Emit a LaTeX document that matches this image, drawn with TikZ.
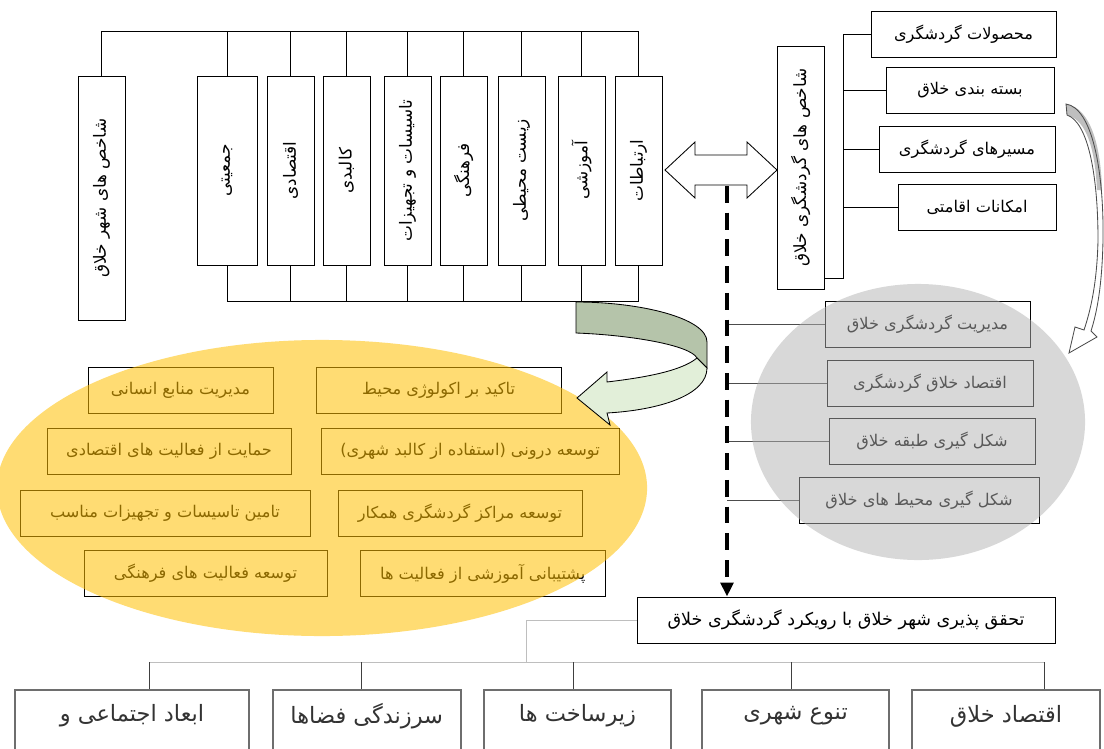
\documentclass[tikz,border=0pt]{standalone}
\usepackage{fontspec}
\usepackage{graphicx}
\usetikzlibrary{arrows.meta}
\newfontfamily\fa[Script=Arabic]{DejaVu Sans}
\TeXXeTstate=1
\newcommand{\rl}[1]{\beginR #1\endR}
\definecolor{ylfill}{RGB}{255,191,0}
\definecolor{grfill}{RGB}{178,178,178}
\definecolor{arrdark}{RGB}{181,196,170}
\definecolor{arrlight}{RGB}{226,239,217}
\definecolor{boxgray}{RGB}{110,110,110}
\definecolor{busgray}{RGB}{190,190,190}
\tikzset{
    vbox/.style={rectangle, draw, line width=0.6pt, minimum width=1.175cm, minimum height=4.725cm, inner sep=0pt, font=\fa\fontsize{12}{14}\selectfont},
    tbox/.style={rectangle, draw, line width=0.6pt, minimum height=1.15cm, inner sep=0pt, font=\fa\fontsize{11.5}{14}\selectfont},
    bbox/.style={rectangle, draw=boxgray, line width=1.4pt, minimum height=2.5cm, anchor=north},
    btext/.style={font=\fa\fontsize{16}{18}\selectfont, text=black!80},
    line/.style={draw, line width=0.6pt},
    glink/.style={draw=black!70, line width=0.6pt},
    dashline/.style={draw, line width=2.6pt, dash pattern=on 12pt off 7pt, -{Triangle[length=10pt,width=9pt]}}
}

\begin{document}
\begin{tikzpicture}[x=0.025cm, y=-0.025cm]
    \useasboundingbox (0,0) rectangle (1104,749);

    % city indicators
    \node [vbox, minimum height=6.1cm] (city) at (101.5,198) {\rotatebox{90}{\rl{شاخص های شهر خلاق}}};
    \node [vbox, minimum width=1.5cm] (jam) at (227,170.5) {\rotatebox{90}{\rl{جمعیتی}}};
    \node [vbox] (eqt) at (290.5,170.5) {\rotatebox{90}{\rl{اقتصادی}}};
    \node [vbox] (kal) at (346.5,170.5) {\rotatebox{90}{\rl{کالبدی}}};
    \node [vbox] (tas) at (407.5,170.5) {\rotatebox{90}{\rl{تاسیسات و تجهیزات}}};
    \node [vbox] (far) at (463.5,170.5) {\rotatebox{90}{\rl{فرهنگی}}};
    \node [vbox] (zis) at (521.5,170.5) {\rotatebox{90}{\rl{زیست محیطی}}};
    \node [vbox] (amu) at (581.5,170.5) {\rotatebox{90}{\rl{آموزشی}}};
    \node [vbox] (ert) at (638.5,170.5) {\rotatebox{90}{\rl{ارتباطات}}};

    \coordinate (bustop) at (0,31);
    \coordinate (busbot) at (0,301);
    \path [line] (city.north) |- (bustop -| ert.north) -- (ert.north);
    \path [line] (jam.south) |- (busbot -| ert.south) -- (ert.south);
    \foreach \n in {jam,eqt,kal,tas,far,zis,amu} {
        \path [line] (\n.north) -- (\n.north |- bustop);
        \path [line] (\n.south) -- (\n.south |- busbot);
    }

    % tourism indicators
    \node [vbox, minimum height=6.075cm] (tour) at (800.5,167.5) {\rotatebox{90}{\rl{شاخص های گردشگری خلاق}}};
    \node [tbox, minimum width=4.625cm] (prod) at (963.5,34) {\rl{محصولات گردشگری}};
    \node [tbox, minimum width=4.2cm] (pack) at (970,90.5) {\rl{بسته بندی خلاق}};
    \node [tbox, minimum width=4.4cm] (route) at (967,149) {\rl{مسیرهای گردشگری}};
    \node [tbox, minimum width=3.95cm] (acco) at (977,207.5) {\rl{امکانات اقامتی}};
    \coordinate (brk) at (843,278);
    \path [line] (tour.east |- brk) -- (brk) |- (prod.west);
    \foreach \n in {pack,route,acco}
        \path [line] (brk |- \n.west) -- (\n.west);

    % double arrow
    \path [line, fill=white] (665,170) -- (695,142) -- (695,155) -- (747,155) -- (747,142) -- (777,170)
        -- (747,198) -- (747,185) -- (695,185) -- (695,198) -- cycle;

    % outcomes (grey)
    \node [tbox, minimum width=5.125cm] (mgmt) at (927.5,324.5) {\rl{مدیریت گردشگری خلاق}};
    \node [tbox, minimum width=5.15cm] (econ) at (930,383.5) {\rl{اقتصاد خلاق گردشگری}};
    \node [tbox, minimum width=5.15cm] (class) at (932,441) {\rl{شکل گیری طبقه خلاق}};
    \node [tbox, minimum width=6cm] (env) at (919,500) {\rl{شکل گیری محیط های خلاق}};

    % strategies (yellow)
    \node [tbox, minimum width=6.125cm] (eco) at (438.5,390.5) {\rl{تاکید بر اکولوژی محیط}};
    \node [tbox, minimum width=4.625cm] (hr) at (180.5,390.5) {\rl{مدیریت منابع انسانی}};
    \node [tbox, minimum width=7.45cm] (infill) at (470,451.5) {\rl{توسعه درونی (استفاده از کالبد شهری)}};
    \node [tbox, minimum width=6.1cm] (supp) at (169,451.5) {\rl{حمایت از فعالیت های اقتصادی}};
    \node [tbox, minimum width=6.1cm] (hub) at (460,513.5) {\rl{توسعه مراکز گردشگری همکار}};
    \node [tbox, minimum width=7.25cm] (facil) at (165,513.5) {\rl{تامین تاسیسات و تجهیزات مناسب}};
    \node [tbox, minimum width=6.11cm] (edu) at (482.75,573.5) {\rl{پشتیبانی آموزشی از فعالیت ها}};
    \node [tbox, minimum width=6.075cm] (cult) at (205.5,573.5) {\rl{توسعه فعالیت های فرهنگی}};

    % result
    \node [tbox, minimum width=10.45cm, font=\fa\fontsize{12.5}{14}\selectfont] (reach) at (846,620) {\rl{تحقق پذیری شهر خلاق با رویکرد گردشگری خلاق}};

    \coordinate (dtop) at (727,186);
    \foreach \n in {mgmt,econ,class,env}
        \path [glink] (dtop |- \n.west) -- (\n.west);
    \path [dashline] (dtop) -- (dtop |- reach.north);

    % overlays
    \fill [ylfill, fill opacity=0.55] (322,488) ellipse [x radius=8.125cm, y radius=3.7cm];
    \fill [grfill, fill opacity=0.5] (918,422) ellipse [x radius=4.175cm, y radius=3.45cm];

    % green turn arrow
    \path [line, fill=arrdark] (576,302) .. controls (640,302) and (707,318) .. (707,342) -- (707,368)
        -- (697,358) .. controls (690,345) and (630,335) .. (576,333) -- cycle;
    \path [line, fill=arrlight] (697,358) -- (707,368) .. controls (707,395) and (660,410) .. (607,413)
        -- (610,425) -- (577,398) -- (607,372) -- (607,382) .. controls (640,378) and (680,372) .. (697,358) -- cycle;

    % grey turn arrow
    \fill [white] (1066,104) .. controls (1092,108) and (1104,170) .. (1103,240) .. controls (1102,290) and (1096,315) .. (1091,331)
        -- (1097,337) -- (1069,353) -- (1075,327) -- (1084,330) .. controls (1090,312) and (1097,285) .. (1098,240)
        .. controls (1098,175) and (1088,122) .. (1067,115) -- cycle;
    \fill [gray!50] (1066,104) .. controls (1092,108) and (1101,150) .. (1102,190) -- (1097,190)
        .. controls (1095,150) and (1087,120) .. (1067,115) -- cycle;
    \draw [black!70, line width=0.6pt] (1066,104) .. controls (1092,108) and (1104,170) .. (1103,240) .. controls (1102,290) and (1096,315) .. (1091,331)
        -- (1097,337) -- (1069,353) -- (1075,327) -- (1084,330) .. controls (1090,312) and (1097,285) .. (1098,240)
        .. controls (1098,175) and (1088,122) .. (1067,115) -- cycle;

    % dimensions
    \node [bbox, minimum width=5.825cm] (b1) at (132,689) {};
    \node [bbox, minimum width=4.71cm] (b2) at (366.75,689) {};
    \node [bbox, minimum width=4.675cm] (b3) at (577.5,689) {};
    \node [bbox, minimum width=4.675cm] (b4) at (795.5,689) {};
    \node [bbox, minimum width=4.72cm] (b5) at (1006,689) {};
    \node [btext] at ([yshift=-0.675cm]b1.north) {\rl{ابعاد اجتماعی و}};
    \node [btext] at ([yshift=-0.675cm]b2.north) {\rl{سرزندگی فضاها}};
    \node [btext] at ([yshift=-0.675cm]b3.north) {\rl{زیرساخت ها}};
    \node [btext] at ([yshift=-0.675cm]b4.north) {\rl{تنوع شهری}};
    \node [btext] at ([yshift=-0.675cm]b5.north) {\rl{اقتصاد خلاق}};

    \path [line, draw=busgray] (reach.west) -| (526,662);
    \path [line, draw=busgray] (149,662) -- (1044,662);
    \foreach \n/\x in {b1/149,b2/361,b3/573,b4/791,b5/1044}
        \path [line, draw=black!75] (\x,662) -- (\x,0 |- \n.north);
\end{tikzpicture}
\end{document}
